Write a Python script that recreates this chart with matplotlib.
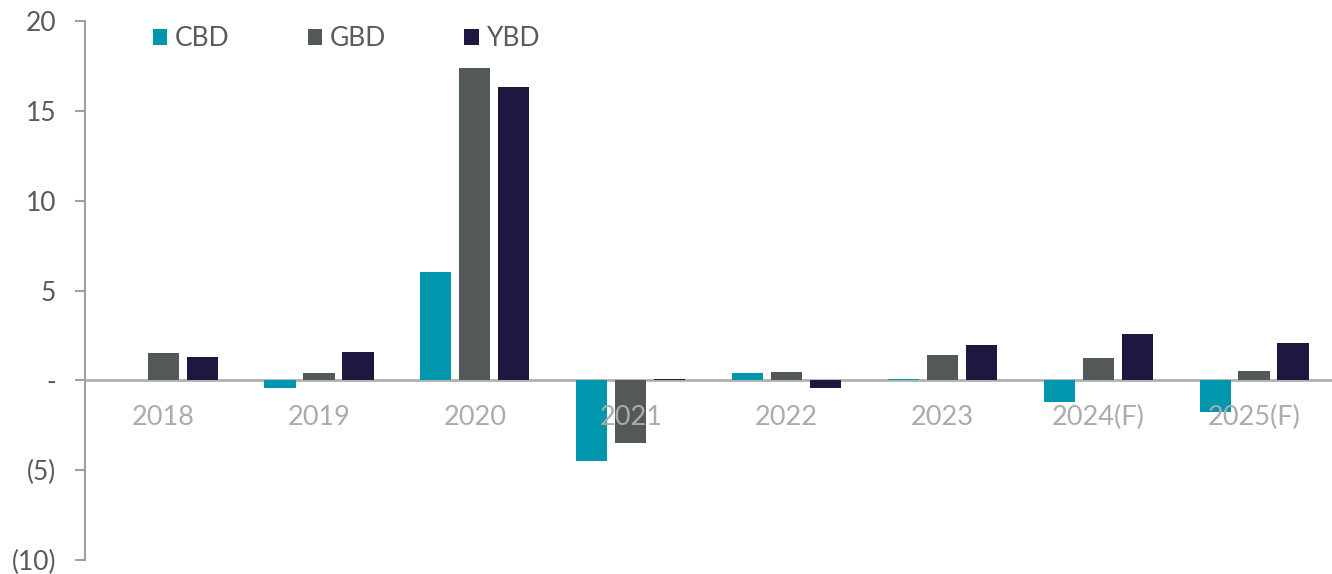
import matplotlib.pyplot as plt
from matplotlib.ticker import FixedLocator, FuncFormatter
import numpy as np

plt.rcParams['font.family'] = ['Lato', 'DejaVu Sans']

years = ['2018', '2019', '2020', '2021', '2022', '2023', '2024(F)', '2025(F)']
cbd = [0.0, -0.4, 6.05, -4.5, 0.4, 0.1, -1.2, -1.75]
gbd = [1.5, 0.4, 17.4, -3.5, 0.45, 1.4, 1.25, 0.5]
ybd = [1.3, 1.55, 16.35, 0.1, -0.4, 1.95, 2.6, 2.1]

series = [('CBD', cbd, '#0096ae'), ('GBD', gbd, '#535858'), ('YBD', ybd, '#1e1740')]

fig = plt.figure(figsize=(13.32, 5.74), dpi=100)
ax = fig.add_axes([0.064, 0.0244, 0.936, 0.939])

x = np.arange(len(years))
w = 0.2
for i, (name, vals, col) in enumerate(series):
    ax.bar(x + (i - 1) * 0.25, vals, w, color=col, label=name, edgecolor='none', zorder=3)

ax.set_xlim(-0.5, len(years) - 0.5)
ax.set_ylim(-10, 20)

def fmt(v, pos):
    if v == 0:
        return '-'
    if v < 0:
        return '(%d)' % abs(v)
    return '%d' % v

ax.yaxis.set_major_locator(FixedLocator([-10, -5, 0, 5, 10, 15, 20]))
ax.yaxis.set_major_formatter(FuncFormatter(fmt))
ax.tick_params(axis='y', length=7, width=1.5, color='#a0a0a0', labelsize=19,
               labelcolor='#5a5a5a', pad=14)

ax.set_xticks(x)
ax.set_xticklabels(years)
ax.tick_params(axis='x', length=0, labelsize=19.5, labelcolor='#ababab', pad=18)

for s in ['top', 'right']:
    ax.spines[s].set_visible(False)
ax.spines['left'].set_color('#a0a0a0')
ax.spines['left'].set_linewidth(1.5)
ax.spines['bottom'].set_position(('data', 0))
ax.spines['bottom'].set_color('#b0b0b0')
ax.spines['bottom'].set_linewidth(2)
ax.spines['bottom'].set_zorder(2)

# year labels sit on top of the bars
ax.xaxis.set_zorder(4)

leg = ax.legend(loc='upper left', bbox_to_anchor=(0.035, 1.035), ncol=3, frameon=False,
                fontsize=19, handlelength=0.55, handleheight=0.55, handletextpad=0.3,
                columnspacing=2.95)
for t in leg.get_texts():
    t.set_color('#5a5a5a')

fig.savefig('out.png', dpi=100)
